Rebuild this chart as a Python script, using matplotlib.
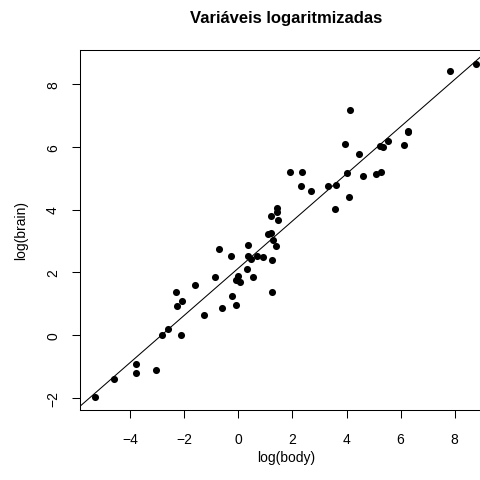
import matplotlib
matplotlib.use('Agg')
import matplotlib.pyplot as plt
import numpy as np

# MASS::mammals (body in kg, brain in g)
body = [3.385, 0.480, 1.350, 465.0, 36.33, 27.66, 14.83, 1.040, 4.190, 0.425,
        0.101, 0.920, 1.000, 0.005, 0.060, 3.500, 2.000, 1.700, 2547.0, 0.023,
        187.1, 521.0, 0.785, 10.00, 3.300, 0.200, 1.410, 529.0, 207.0, 85.00,
        0.750, 62.00, 6654.0, 3.500, 6.800, 35.00, 4.050, 0.120, 0.023, 0.010,
        1.400, 250.0, 2.500, 55.50, 100.0, 52.16, 10.55, 0.550, 60.00, 3.600,
        4.288, 0.280, 0.075, 0.122, 0.048, 192.0, 3.000, 160.0, 0.900, 1.620,
        0.104, 4.235]
brain = [44.5, 15.5, 8.1, 423.0, 119.5, 115.0, 98.2, 5.5, 58.0, 6.4,
         4.0, 5.7, 6.6, 0.14, 1.0, 10.8, 12.3, 6.3, 4603.0, 0.3,
         419.0, 655.0, 3.5, 115.0, 25.6, 5.0, 17.5, 680.0, 406.0, 325.0,
         12.3, 1320.0, 5712.0, 3.9, 179.0, 56.0, 17.0, 1.0, 0.4, 0.25,
         12.5, 490.0, 12.1, 175.0, 157.0, 440.0, 179.5, 2.4, 81.0, 21.0,
         39.2, 1.9, 1.2, 3.0, 0.33, 180.0, 25.0, 169.0, 2.6, 11.4,
         2.5, 50.4]

x = np.log(body)
y = np.log(brain)
slope, intercept = np.polyfit(x, y, 1)

plt.rcParams['font.family'] = ['Liberation Sans', 'DejaVu Sans']

fig = plt.figure(figsize=(4.8, 4.81), dpi=100)
# plot region runs past the right edge, as in the cropped original
ax = fig.add_axes([80 / 480, 70 / 481, 0.8575, 0.7475])

ax.scatter(x, y, s=26, color='black', linewidths=0, zorder=3)
ax.axline((0, intercept), slope=slope, color='black', linewidth=0.75)

# R style 4% axis extension
dx = (x.max() - x.min()) * 0.04
dy = (y.max() - y.min()) * 0.04
ax.set_xlim(x.min() - dx, x.max() + dx)
ax.set_ylim(y.min() - dy, y.max() + dy)

ax.set_xticks([-4, -2, 0, 2, 4, 6, 8])
ax.set_yticks([-2, 0, 2, 4, 6, 8])
ax.set_xticklabels(['\u22124', '\u22122', '0', '2', '4', '6', '8'])
ax.set_yticklabels(['\u22122', '0', '2', '4', '6', '8'], rotation=90, va='center')
ax.tick_params(axis='both', direction='out', length=5.8, width=0.75, labelsize=10)
ax.tick_params(axis='x', pad=10)
ax.tick_params(axis='y', pad=8.6)
for s in ax.spines.values():
    s.set_linewidth(0.75)

fig.text(285.8 / 480, 1 - 18 / 481, 'Variáveis logaritmizadas', ha='center', va='center',
         fontsize=12, fontweight='bold')
fig.text(285.8 / 480, 1 - 458 / 481, 'log(body)', ha='center', va='center', fontsize=10)
fig.text(21 / 480, 1 - 231 / 481, 'log(brain)', ha='center', va='center', fontsize=10,
         rotation=90)

fig.savefig('out.png', dpi=100)
plt.close(fig)
